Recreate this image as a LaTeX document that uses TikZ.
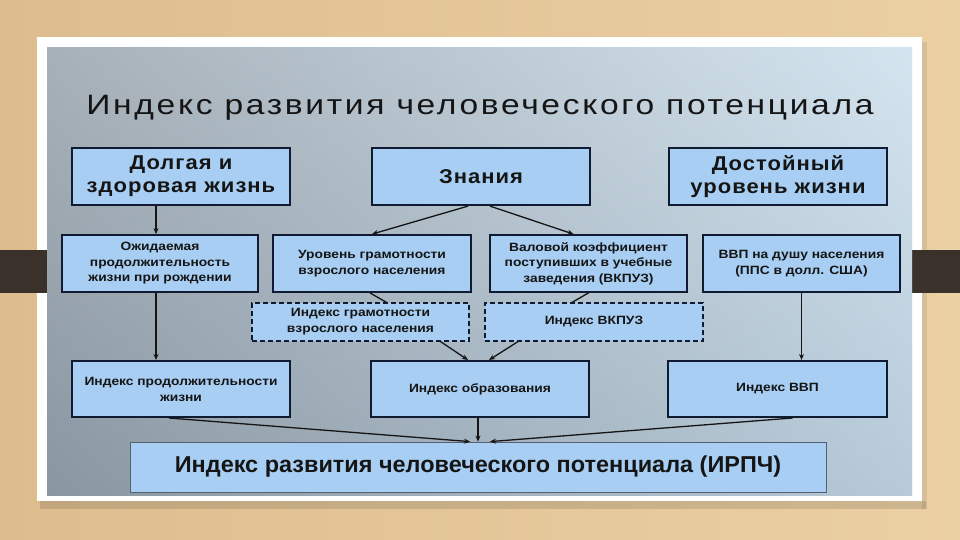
\documentclass[tikz,border=0pt]{standalone}
\usepackage{fontspec}
\setmainfont{Liberation Sans}
\usetikzlibrary{arrows.meta}
\definecolor{wood}{HTML}{EBD0A4}
\definecolor{woodd}{HTML}{DDBD8E}
\definecolor{band}{HTML}{3A322A}
\definecolor{panL}{HTML}{8A97A2}
\definecolor{panR}{HTML}{C6DCEB}
\definecolor{boxblue}{HTML}{A8CFF3}
\definecolor{navy}{HTML}{101A30}
\definecolor{ink}{HTML}{151515}
\tikzset{
  bigbox/.style={draw=navy, line width=2.2pt, fill=boxblue, align=center, inner sep=0pt,
    minimum width=218pt, minimum height=57pt, text=ink,
    font=\fontsize{20}{23}\selectfont\bfseries\addfontfeatures{FakeStretch=1.1,LetterSpace=5}},
  midbox/.style={draw=navy, line width=1.8pt, fill=boxblue, align=center, inner sep=0pt,
    minimum height=57pt, text=ink,
    font=\fontsize{12}{15.5}\selectfont\bfseries\addfontfeatures{FakeStretch=1.15}},
  dashbox/.style={draw=navy, line width=1.2pt, dash pattern=on 5pt off 3pt, fill=boxblue, align=center, inner sep=0pt,
    minimum height=38pt, text=ink,
    font=\fontsize{12}{16}\selectfont\bfseries\addfontfeatures{FakeStretch=1.15}},
  lowbox/.style={draw=navy, line width=2pt, fill=boxblue, align=center, inner sep=0pt,
    minimum width=218pt, minimum height=56pt, text=ink,
    font=\fontsize{12}{16}\selectfont\bfseries\addfontfeatures{FakeStretch=1.15}},
  finbox/.style={draw=navy!70, line width=0.8pt, fill=boxblue, align=center, inner sep=0pt,
    minimum width=696pt, minimum height=50pt, text=ink,
    font=\fontsize{23}{26}\selectfont\bfseries\addfontfeatures{FakeStretch=1.02}},
  arr/.style={draw=ink, line width=1.3pt, -{Stealth[length=6pt,width=5pt]}},
  lin/.style={draw=ink, line width=1.3pt}
}
\begin{document}
\begin{tikzpicture}[x=1pt,y=-1pt]
\useasboundingbox (0,0) rectangle (960,540);
% wooden background
\shade[left color=woodd, right color=wood] (0,0) rectangle (960,540);
% shadow of the frame
\fill[black, opacity=0.12] (40,501) rectangle (926,509);
\fill[black, opacity=0.08] (922,42) rectangle (927,509);
% white frame
\fill[white] (37,37) rectangle (922,501);
% dark band
\fill[band] (0,250) rectangle (47,293);
\fill[band] (912,250) rectangle (960,293);
% gradient panel
\shade[left color=panL, right color=panR] (47,48) rectangle (912,495);
\shade[top color=white, bottom color=panL, opacity=0.25] (47,48) rectangle (912,495);

% title
\node[text=ink, font=\fontsize{28}{30}\selectfont\addfontfeatures{FakeStretch=1.2,LetterSpace=9.5}] (T) at (480,108) {Индекс развития человеческого потенциала};

% row 1
\node[bigbox] (A) at (181,176.5) {Долгая и\\здоровая жизнь};
\node[bigbox] (B) at (481,176.5) {Знания};
\node[bigbox] (C) at (778,176.5) {Достойный\\уровень жизни};

% row 2
\node[midbox, minimum width=196pt] (D) at (160,263.5) {Ожидаемая\\продолжительность\\жизни при рождении};
\node[midbox, minimum width=198pt] (E) at (372,263.5) {Уровень грамотности\\взрослого населения};
\node[midbox, minimum width=197pt] (F) at (588.5,263.5) {Валовой коэффициент\\поступивших в учебные\\заведения (ВКПУЗ)};
\node[midbox, minimum width=197pt] (G) at (801.5,263.5) {ВВП на душу населения\\(ППС в долл. США)};

% row 3 (dashed)
\node[dashbox, minimum width=217pt] (H) at (360.5,322) {Индекс грамотности\\взрослого населения};
\node[dashbox, minimum width=218pt] (I) at (594,322) {Индекс ВКПУЗ};

% row 4
\node[lowbox] (J) at (181,389) {Индекс продолжительности\\жизни};
\node[lowbox] (K) at (480,389) {Индекс образования};
\node[lowbox, minimum width=219pt] (L) at (777.5,389) {Индекс ВВП};

% row 5
\node[finbox] (M) at (478,467) {Индекс развития человеческого потенциала (ИРПЧ)};

% connectors
\draw[arr] ([xshift=-25pt]A.south) -- ([xshift=-4pt]D.north);
\draw[arr] ([xshift=-13pt]B.south) -- (E.north);
\draw[arr] ([xshift=9pt]B.south) -- ([xshift=-15pt]F.north);
\draw[lin] ([xshift=-2pt]E.south) -- ([xshift=26pt]H.north);
\draw[lin] (F.south) -- ([xshift=-22pt]I.north);
\draw[arr] ([xshift=80pt]H.south) -- ([xshift=-12pt]K.north);
\draw[arr] ([xshift=-76pt]I.south) -- ([xshift=9pt]K.north);
\draw[arr] ([xshift=-4pt]D.south) -- ([xshift=-25pt]J.north);
\draw[arr] (G.south) -- ([xshift=24pt]L.north);
\draw[arr] ([xshift=-12pt]J.south) -- ([xshift=-8pt]M.north);
\draw[arr] ([xshift=-2pt]K.south) -- (M.north);
\draw[arr] ([xshift=15pt]L.south) -- ([xshift=12pt]M.north);
\end{tikzpicture}
\end{document}
